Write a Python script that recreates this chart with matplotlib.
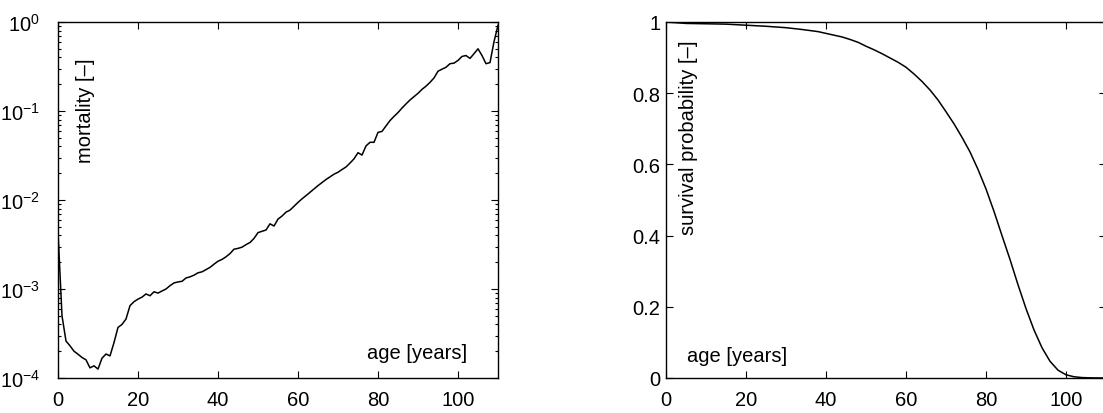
import numpy as np
import matplotlib
matplotlib.use('Agg')
import matplotlib.pyplot as plt
from matplotlib.ticker import LogLocator, NullFormatter

plt.rcParams['font.family'] = ['Liberation Sans', 'DejaVu Sans']
plt.rcParams['mathtext.fontset'] = 'custom'
plt.rcParams['mathtext.rm'] = 'Liberation Sans'
plt.rcParams['mathtext.it'] = 'Liberation Sans'

# mortality per age
mort_age = list(range(0, 111))
mortality = [
    4.4e-3, 5.0e-4, 2.6e-4, 2.3e-4, 2.0e-4, 1.85e-4, 1.7e-4, 1.6e-4, 1.3e-4, 1.37e-4,
    1.26e-4, 1.67e-4, 1.86e-4, 1.77e-4, 2.5e-4, 3.7e-4, 4.0e-4, 4.6e-4, 6.5e-4, 7.2e-4,
    7.7e-4, 8.1e-4, 8.8e-4, 8.4e-4, 9.3e-4, 9.0e-4, 9.5e-4, 1.0e-3, 1.09e-3, 1.17e-3,
    1.2e-3, 1.22e-3, 1.33e-3, 1.37e-3, 1.43e-3, 1.52e-3, 1.56e-3, 1.65e-3, 1.75e-3, 1.9e-3,
    2.05e-3, 2.15e-3, 2.3e-3, 2.5e-3, 2.8e-3, 2.86e-3, 2.95e-3, 3.15e-3, 3.33e-3, 3.7e-3,
    4.3e-3, 4.45e-3, 4.6e-3, 5.4e-3, 5.1e-3, 6.1e-3, 6.6e-3, 7.3e-3, 7.7e-3, 8.5e-3,
    9.4e-3, 1.03e-2, 1.12e-2, 1.22e-2, 1.33e-2, 1.45e-2, 1.57e-2, 1.7e-2, 1.82e-2, 1.95e-2,
    2.05e-2, 2.2e-2, 2.35e-2, 2.6e-2, 2.9e-2, 3.4e-2, 3.2e-2, 4.05e-2, 4.45e-2, 4.45e-2,
    5.75e-2, 5.9e-2, 6.8e-2, 7.8e-2, 8.7e-2, 9.6e-2, 0.108, 0.12, 0.133, 0.145,
    0.158, 0.175, 0.19, 0.21, 0.235, 0.28, 0.295, 0.31, 0.34, 0.345,
    0.37, 0.41, 0.42, 0.39, 0.44, 0.50, 0.42, 0.34, 0.35, 0.6,
    0.92]

# survival probability
surv_age = [0, 5, 10, 15, 20, 25, 30, 34, 38, 40, 42, 44, 46, 48, 50, 52, 54, 56,
            58, 60, 62, 64, 66, 68, 70, 72, 74, 76, 78, 80, 82, 84, 86, 88, 90,
            92, 94, 96, 98, 100, 102, 104, 106, 108, 110]
survival = [1.0, 0.996, 0.995, 0.994, 0.991, 0.988, 0.984, 0.979, 0.973, 0.968,
            0.963, 0.958, 0.951, 0.943, 0.932, 0.922, 0.911, 0.899, 0.887, 0.873,
            0.854, 0.833, 0.809, 0.781, 0.748, 0.714, 0.676, 0.635, 0.586, 0.531,
            0.468, 0.400, 0.333, 0.262, 0.195, 0.135, 0.085, 0.047, 0.022, 0.009,
            0.0035, 0.0012, 0.0004, 0.0001, 0.0]

fig = plt.figure(figsize=(11.03, 4.14), dpi=100)
ax1 = fig.add_axes([58/1103, 35/414, 440/1103, 356/414])
ax2 = fig.add_axes([666/1103, 35/414, 440/1103, 356/414])

fs = 14.5


def style(ax, ypad):
    ax.tick_params(which='both', direction='in', top=True, right=True,
                   labelsize=fs, width=0.8)
    ax.tick_params(axis='x', pad=9)
    ax.tick_params(axis='y', pad=ypad)
    ax.tick_params(which='major', length=5)
    ax.tick_params(which='minor', length=2.5)
    for s in ax.spines.values():
        s.set_linewidth(1.0)


ax1.plot(mort_age, mortality, color='black', lw=1.1)
ax1.set_yscale('log')
ax1.set_xlim(0, 110)
ax1.set_ylim(1e-4, 1)
ax1.set_xticks([0, 20, 40, 60, 80, 100])
ax1.yaxis.set_major_locator(LogLocator(base=10, numticks=10))
ax1.yaxis.set_minor_locator(LogLocator(base=10, subs=np.arange(2, 10), numticks=20))
ax1.yaxis.set_minor_formatter(NullFormatter())
style(ax1, 13)
ax1.text(0.062, 0.9, 'mortality [–]', transform=ax1.transAxes, rotation=90,
         ha='center', va='top', fontsize=fs)
ax1.text(0.93, 0.073, 'age [years]', transform=ax1.transAxes,
         ha='right', va='center', fontsize=fs)

ax2.plot(surv_age, survival, color='black', lw=1.1)
ax2.set_xlim(0, 110)
ax2.set_ylim(0, 1)
ax2.set_xticks([0, 20, 40, 60, 80, 100])
ax2.set_yticks([0, 0.2, 0.4, 0.6, 0.8, 1])
ax2.set_yticklabels(['0', '0.2', '0.4', '0.6', '0.8', '1'])
style(ax2, 4)
ax2.text(0.051, 0.952, 'survival probability [–]', transform=ax2.transAxes,
         rotation=90, ha='center', va='top', fontsize=fs)
ax2.text(0.047, 0.062, 'age [years]', transform=ax2.transAxes,
         ha='left', va='center', fontsize=fs)

fig.savefig('out.png', dpi=100)
